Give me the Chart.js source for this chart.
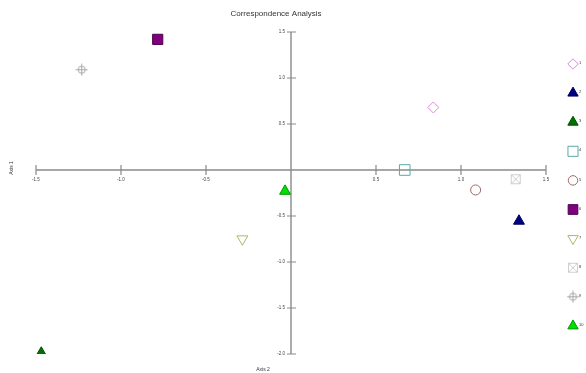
<!DOCTYPE html>
<html><head><meta charset="utf-8">
<script src="https://cdn.jsdelivr.net/npm/chart.js@4"></script>
<style>html,body{margin:0;padding:0;background:#fff}#wrap{width:586px;height:373px;position:relative}</style>
</head><body><div id="wrap"><canvas id="c" width="586" height="373"></canvas></div>
<script>
// ---- data ----
const chartTitle = 'Correspondence Analysis';
const xAxisTitle = 'Axis 2';
const yAxisTitle = 'Axis 1';
const seriesNames = ['1','2','3','4','5','6','7','8','9','10'];
const axis2Values = [0.837, 1.341, -1.469, 0.669, 1.086, -0.784, -0.286, 1.322, -1.231, -0.035];
const axis1Values = [0.68, -0.555, -1.99, 0.0, -0.217, 1.42, -0.75, -0.10, 1.09, -0.23];
const xTicks = [-1.5, -1.0, -0.5, 0, 0.5, 1.0, 1.5];
const yTicks = [1.5, 1.0, 0.5, 0, -0.5, -1.0, -1.5, -2.0];

// ---- styles ----
function icon(kind){
  const c = document.createElement('canvas');
  const g = c.getContext('2d');
  if (kind === 'boxX') {
    c.width = 12; c.height = 12;
    g.strokeStyle = '#cfcfcf'; g.lineWidth = 1;
    g.strokeRect(1.5, 1.5, 9, 9);
    g.beginPath(); g.moveTo(1.5,1.5); g.lineTo(10.5,10.5); g.moveTo(10.5,1.5); g.lineTo(1.5,10.5); g.stroke();
  } else {
    c.width = 13; c.height = 13;
    g.strokeStyle = '#a8a8a8'; g.lineWidth = 1;
    g.beginPath(); g.arc(6.5, 6.5, 3.6, 0, Math.PI*2); g.stroke();
    g.beginPath(); g.moveTo(6.5,0.5); g.lineTo(6.5,12.5); g.moveTo(0.5,6.5); g.lineTo(12.5,6.5); g.stroke();
  }
  return c;
}
const styles = [
  {ps:'rectRot', r:5.5, fill:'rgba(0,0,0,0)', stroke:'#dd88dd'},
  {ps:'triangle', r:6.3, fill:'#000080', stroke:'#000060'},
  {ps:'triangle', r:6.3, fill:'#007000', stroke:'#005000'},
  {ps:'rect', r:7.5, fill:'rgba(0,0,0,0)', stroke:'#5aa8a8'},
  {ps:'circle', r:5, fill:'rgba(0,0,0,0)', stroke:'#a06868'},
  {ps:'rect', r:7.2, fill:'#800080', stroke:'#4a004a'},
  {ps:'triangle', r:6.3, rot:180, fill:'rgba(0,0,0,0)', stroke:'#b4b464'},
  {ps:icon('boxX'), r:6, fill:'rgba(0,0,0,0)', stroke:'#cfcfcf'},
  {ps:icon('cross'), r:6, fill:'rgba(0,0,0,0)', stroke:'#a8a8a8'},
  {ps:'triangle', r:6.3, fill:'#00dd00', stroke:'#009900'}
];

const axisColor = '#8a8a8a';
const decor = {
  id: 'decor',
  beforeDatasetsDraw(chart){
    const {ctx} = chart;
    const xs = chart.scales.x, ys = chart.scales.y;
    const x0 = xs.getPixelForValue(0), y0 = ys.getPixelForValue(0);
    ctx.save();
    ctx.strokeStyle = axisColor; ctx.lineWidth = 1.4;
    ctx.beginPath();
    ctx.moveTo(xs.getPixelForValue(xTicks[0]), y0); ctx.lineTo(xs.getPixelForValue(xTicks[xTicks.length-1]), y0);
    ctx.moveTo(x0, ys.getPixelForValue(yTicks[0])); ctx.lineTo(x0, ys.getPixelForValue(yTicks[yTicks.length-1]));
    ctx.stroke();
    ctx.lineWidth = 1.2;
    ctx.beginPath();
    xTicks.forEach(v => { if (v === 0) return; const p = xs.getPixelForValue(v); ctx.moveTo(p, y0-5); ctx.lineTo(p, y0+5); });
    yTicks.forEach(v => { if (v === 0) return; const p = ys.getPixelForValue(v); ctx.moveTo(x0-4, p); ctx.lineTo(x0+5, p); });
    ctx.stroke();
    ctx.fillStyle = '#444';
    ctx.font = '4.5px "Liberation Sans", Arial, sans-serif';
    ctx.textAlign = 'center'; ctx.textBaseline = 'middle';
    xTicks.forEach(v => { if (v === 0) return; ctx.fillText(v.toFixed(1), xs.getPixelForValue(v), y0 + 10); });
    ctx.textAlign = 'right';
    yTicks.forEach(v => { if (v === 0) return; ctx.fillText(v.toFixed(1), x0 - 6, ys.getPixelForValue(v)); });
    ctx.restore();
  },
  afterDraw(chart){
    const {ctx} = chart;
    ctx.save();
    ctx.fillStyle = '#333';
    ctx.font = '8px "Liberation Sans", Arial, sans-serif';
    ctx.textAlign = 'center'; ctx.textBaseline = 'middle';
    ctx.fillText(chartTitle, 276, 14);
    ctx.font = '5px "Liberation Sans", Arial, sans-serif';
    ctx.fillText(xAxisTitle, 263, 370);
    ctx.save(); ctx.translate(12, 168); ctx.rotate(-Math.PI/2); ctx.fillText(yAxisTitle, 0, 0); ctx.restore();
    // legend
    const H = Chart.helpers;
    chart.data.datasets.forEach((ds, i) => {
      const st = styles[i];
      const lx = 573, ly = 64 + i * 29.1;
      ctx.fillStyle = st.fill; ctx.strokeStyle = st.stroke; ctx.lineWidth = 1;
      H.drawPoint(ctx, {pointStyle: st.ps, radius: st.r * 0.95, rotation: st.rot || 0, borderWidth: 1}, lx, ly);
      ctx.fillStyle = '#333';
      ctx.font = '4px "Liberation Sans", Arial, sans-serif';
      ctx.textAlign = 'left';
      ctx.fillText(ds.label, lx + 6, ly - 1);
    });
    ctx.restore();
  }
};

new Chart(document.getElementById('c'), {
  type: 'scatter',
  data: {
    datasets: seriesNames.map((n, i) => ({
      label: n,
      data: [{x: axis2Values[i], y: axis1Values[i]}],
      pointStyle: styles[i].ps,
      rotation: styles[i].rot || 0,
      pointRadius: styles[i].r,
      pointHoverRadius: styles[i].r,
      backgroundColor: styles[i].fill,
      borderColor: styles[i].stroke,
      borderWidth: 1
    }))
  },
  options: {
    responsive: false,
    animation: false,
    layout: {padding: {left: 36, right: 40, top: 32, bottom: 19}},
    scales: {
      x: {type: 'linear', min: -1.5, max: 1.5, display: false},
      y: {type: 'linear', min: -2.0, max: 1.5, display: false}
    },
    plugins: {legend: {display: false}, title: {display: false}, tooltip: {enabled: false}}
  },
  plugins: [decor]
});
</script>
</body></html>
